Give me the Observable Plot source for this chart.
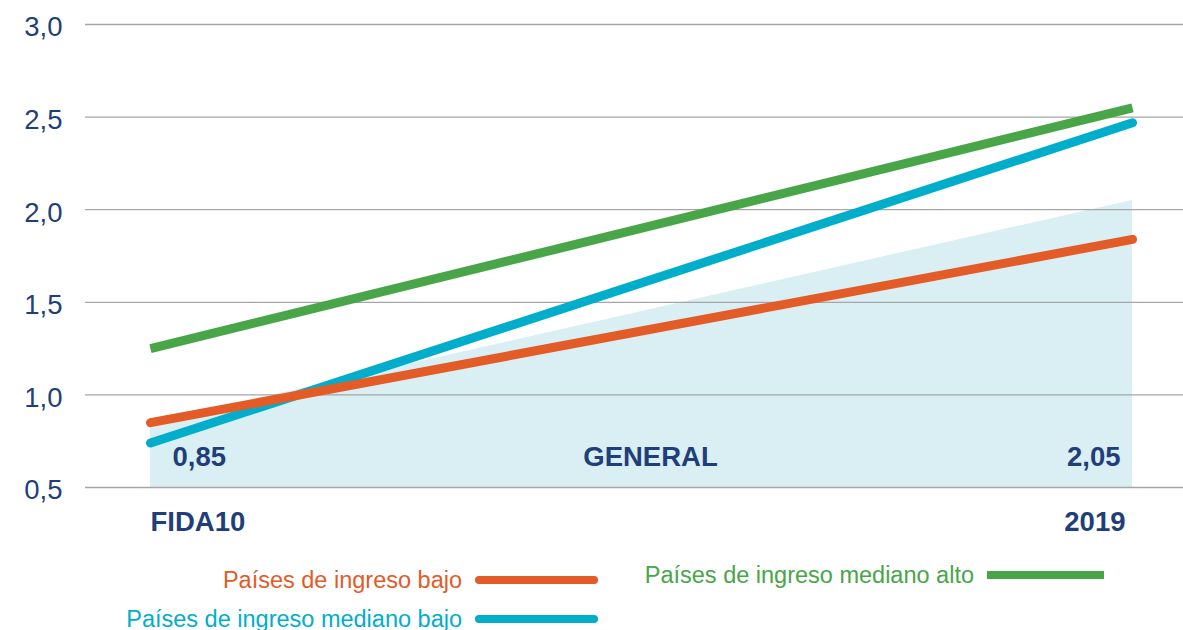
<!DOCTYPE html>
<html>
<head>
<meta charset="utf-8">
<script src="https://cdn.jsdelivr.net/npm/d3@7"></script>
<script src="https://cdn.jsdelivr.net/npm/@observablehq/plot@0.6"></script>
<style>
  html, body { margin: 0; padding: 0; background: #fff; }
  #wrap { position: relative; width: 1183px; height: 630px; overflow: hidden; font-family: "Liberation Sans", Arial, sans-serif; }
  #wrap svg { display: block; }
  .leg { position: absolute; display: flex; align-items: center; gap: 13px; font-size: 23.5px; line-height: 28px; white-space: nowrap; }
  .sw { height: 8px; width: 123px; }
</style>
</head>
<body>
<div id="wrap"></div>
<script>
// ---- data ----
const periods = ["FIDA10", "2019"];
const periodIndex = [0, 1];
const seriesNames = ["Países de ingreso bajo", "Países de ingreso mediano bajo", "Países de ingreso mediano alto"];
const bajo = [0.85, 1.84];
const medianoBajo = [0.74, 2.47];
const medianoAlto = [1.25, 2.55];
const general = [0.85, 2.05];
const generalLabels = ["0,85", "GENERAL", "2,05"];
const generalLabelPos = [0, 0.5, 1];
const yTicks = [0.5, 1.0, 1.5, 2.0, 2.5, 3.0];

// ---- styles ----
const navy = "#1f3f7a";
const colors = ["#e35b27", "#00aecb", "#48a548"];
const areaFill = "#d9eff4";
const fmt = d => d.toFixed(1).replace(".", ",");

const toRows = vals => periodIndex.map((i, k) => ({i, v: vals[k]}));
const generalRows = toRows(general);
const seriesRows = [bajo, medianoBajo, medianoAlto].map(toRows);
const labelRows = generalLabels.map((t, k) => ({t, i: generalLabelPos[k], anchor: k === 0 ? "start" : k === 2 ? "end" : "middle", dx: k === 0 ? 22 : k === 2 ? -12 : 9}));
const periodRows = periods.map((p, k) => ({p, i: periodIndex[k], anchor: k === 0 ? "start" : "end", dx: k === 0 ? 0 : -7}));

const chart = Plot.plot({
  width: 1183,
  height: 630,
  marginTop: 24,
  marginBottom: 143,
  marginLeft: 85,
  marginRight: 0,
  style: {fontFamily: "'Liberation Sans', Arial, sans-serif", background: "transparent"},
  x: {domain: [0, 1], range: [150, 1132], axis: null},
  y: {domain: [0.5, 3.0], axis: null},
  marks: [
    Plot.areaY(generalRows, {x: "i", y1: 0.5, y2: "v", fill: areaFill}),
    Plot.ruleY(yTicks, {stroke: "#a6a6a6", strokeWidth: 1.3}),
    Plot.axisY({ticks: yTicks, tickSize: 0, tickPadding: 23, tickFormat: fmt, fontSize: 27.5, fill: navy, dy: 3, label: null}),
    Plot.line(seriesRows[2], {x: "i", y: "v", stroke: colors[2], strokeWidth: 9, strokeLinecap: "butt"}),
    Plot.line(seriesRows[1], {x: "i", y: "v", stroke: colors[1], strokeWidth: 9, strokeLinecap: "round"}),
    Plot.line(seriesRows[0], {x: "i", y: "v", stroke: colors[0], strokeWidth: 9, strokeLinecap: "round"}),
    ...labelRows.map(r => Plot.text([r], {x: "i", y: 0.5, text: "t", textAnchor: r.anchor, dx: r.dx, dy: -30, fontSize: 27.5, fontWeight: "bold", fill: navy})),
    ...periodRows.map(r => Plot.text([r], {x: "i", y: 0.5, text: "p", textAnchor: r.anchor, dx: r.dx, dy: 35, fontSize: 27.5, fontWeight: "bold", fill: navy}))
  ]
});
const wrap = document.getElementById("wrap");
wrap.appendChild(chart);

// ---- legend ----
const legendPlace = [
  {right: 1183 - 598, top: 566, cap: "round"},
  {right: 1183 - 598, top: 605, cap: "round"},
  {right: 1183 - 1104, top: 561, cap: "butt"}
];
seriesNames.forEach((name, k) => {
  const d = document.createElement("div");
  d.className = "leg";
  d.style.right = legendPlace[k].right + "px";
  d.style.top = legendPlace[k].top + "px";
  d.style.color = colors[k];
  const t = document.createElement("span");
  t.textContent = name;
  const s = document.createElement("span");
  s.className = "sw";
  s.style.background = colors[k];
  s.style.borderRadius = legendPlace[k].cap === "round" ? "4px" : "0";
  if (k === 2) s.style.width = "117px";
  d.appendChild(t);
  d.appendChild(s);
  wrap.appendChild(d);
});
</script>
</body>
</html>
